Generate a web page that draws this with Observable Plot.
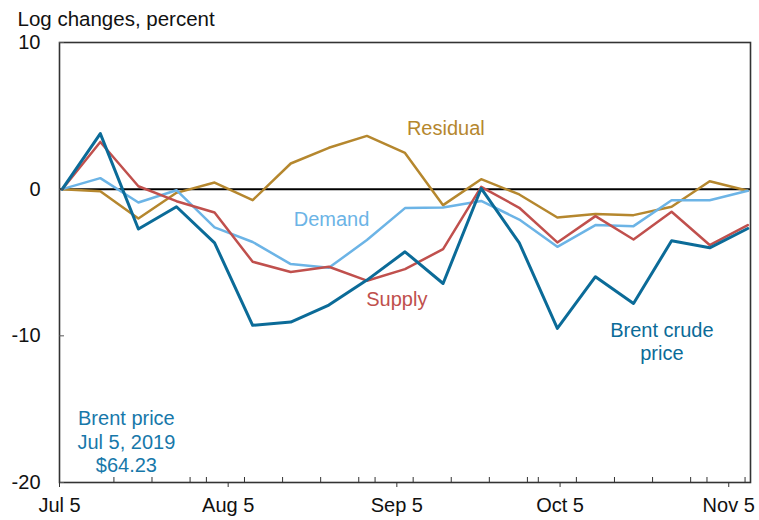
<!DOCTYPE html>
<html><head><meta charset="utf-8">
<script src="https://cdn.jsdelivr.net/npm/d3@7"></script>
<script src="https://cdn.jsdelivr.net/npm/@observablehq/plot@0.6"></script>
<style>body{margin:0;background:#fff;font-family:"Liberation Sans",Arial,sans-serif}</style>
</head><body><div id="chart"></div>
<script>
// Weekly observations (Fridays)
const dates = ["2019-07-05","2019-07-12","2019-07-19","2019-07-26","2019-08-02","2019-08-09","2019-08-16","2019-08-23","2019-08-30","2019-09-06","2019-09-13","2019-09-20","2019-09-27","2019-10-04","2019-10-11","2019-10-18","2019-10-25","2019-11-01","2019-11-08"];
const brent    = [0, 3.79, -2.72, -1.20, -3.66, -9.28, -9.06, -7.90, -6.20, -4.27, -6.43, 0.05, -3.66, -9.49, -5.97, -7.79, -3.52, -4.00, -2.68];
const supply   = [0, 3.22, 0.20, -0.82, -1.59, -4.95, -5.65, -5.29, -6.24, -5.45, -4.09, 0.16, -1.27, -3.63, -1.84, -3.43, -1.54, -3.81, -2.45];
const demand   = [0, 0.75, -0.91, -0.07, -2.61, -3.60, -5.11, -5.36, -3.47, -1.29, -1.25, -0.80, -2.07, -3.93, -2.45, -2.52, -0.75, -0.75, -0.11];
const residual = [0, -0.14, -2.00, -0.25, 0.45, -0.75, 1.75, 2.82, 3.63, 2.47, -1.09, 0.68, -0.36, -1.93, -1.70, -1.77, -1.20, 0.54, -0.11];

const yTicks = [10, 0, -10, -20];
const xTickLabels = ["2019-07-05","2019-08-05","2019-09-05","2019-10-05","2019-11-05"];
const xDomain = ["2019-07-05","2019-11-09"];
const title = "Log changes, percent";

const colors = {brent: "#0b6b98", supply: "#c0504d", demand: "#6cb4e6", residual: "#b5872e", note: "#1778aa"};

// Series labels
const seriesLabels = [
  {text: "Residual", date: "2019-09-14", value: 4.78, color: colors.residual},
  {text: "Demand", date: "2019-08-24", value: -1.42, color: colors.demand},
  {text: "Supply", date: "2019-09-05", value: -6.87, color: colors.supply},
  {text: "Brent crude\nprice", date: "2019-10-23T17:00", value: -8.95, color: colors.brent}
];
const noteLabel = [{text: "Brent price\nJul 5, 2019\n$64.23", date: "2019-07-17T07:00", value: -14.97}];

const day = s => new Date(s.includes("T") ? s + "Z" : s + "T00:00Z");
const obs = s => new Date(s + "T12:00Z");
const rows = vals => vals.map((v, i) => ({date: obs(dates[i]), value: v}));
const weekly = d3.utcDay.every(7).range(day(xDomain[0]), day(xDomain[1]))
  .filter((d, i) => i > 0);

const plot = Plot.plot({
  width: 759, height: 520,
  marginLeft: 59, marginRight: 9, marginTop: 42, marginBottom: 38,
  style: {fontFamily: "'Liberation Sans', Arial, sans-serif", fontSize: "20px", color: "#111", background: "#fff"},
  x: {type: "utc", domain: xDomain.map(day)},
  y: {domain: [-20, 10]},
  marks: [
    Plot.ruleY([0], {stroke: "#000", strokeWidth: 2}),
    Plot.line(rows(residual), {x: "date", y: "value", stroke: colors.residual, strokeWidth: 2.5}),
    Plot.line(rows(demand), {x: "date", y: "value", stroke: colors.demand, strokeWidth: 2.5}),
    Plot.line(rows(supply), {x: "date", y: "value", stroke: colors.supply, strokeWidth: 2.5}),
    Plot.line(rows(brent), {x: "date", y: "value", stroke: colors.brent, strokeWidth: 3}),
    Plot.frame({stroke: "#333", strokeWidth: 1.6}),
    Plot.axisY({ticks: yTicks, tickSize: 0, tickPadding: 19, tickFormat: d => String(d), label: null, fontSize: 20}),
    Plot.axisY({ticks: yTicks, tickSize: 5, dx: 5, tickFormat: () => "", label: null, stroke: "#555"}),
    Plot.axisX({ticks: xTickLabels.map(day), tickSize: 5, tickPadding: 10, tickFormat: d3.utcFormat("%b %-d"), label: null, fontSize: 20, stroke: "#333"}),
    Plot.axisX({ticks: weekly, tickSize: 5, dy: -5, tickFormat: () => "", label: null, stroke: "#333"}),
    Plot.text(seriesLabels, {x: d => day(d.date), y: "value", text: "text", fill: d => d.color, fontSize: 20, lineAnchor: "top", lineHeight: 1.15, textAnchor: "middle"}),
    Plot.text(noteLabel, {x: d => day(d.date), y: "value", text: "text", fill: colors.note, fontSize: 20, lineAnchor: "top", lineHeight: 1.17, textAnchor: "middle"}),
    Plot.text([title], {frameAnchor: "top-left", dx: -42, dy: -23, text: d => d, textAnchor: "start", lineAnchor: "middle", fontSize: 20.5, fill: "#111"})
  ]
});
document.getElementById("chart").appendChild(plot);
</script>
</body></html>
